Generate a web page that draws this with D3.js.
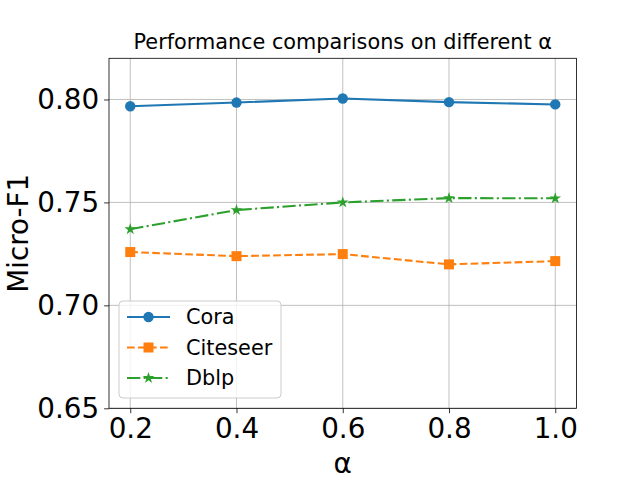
<!DOCTYPE html>
<html>
<head>
<meta charset="utf-8">
<script src="https://cdn.jsdelivr.net/npm/d3@7"></script>
<style>
  body { margin: 0; background: #fff; }
  svg { font-family: "DejaVu Sans", sans-serif; }
</style>
</head>
<body>
<div id="chart"></div>
<script>
const alphas = [0.2, 0.4, 0.6, 0.8, 1.0];
const cora = [0.7967, 0.7985, 0.8005, 0.7987, 0.7976];
const citeseer = [0.7259, 0.7239, 0.7249, 0.7199, 0.7215];
const dblp = [0.7370, 0.7463, 0.7500, 0.7521, 0.7520];
const yTicks = [0.65, 0.70, 0.75, 0.80];

const series = [
  { name: 'Cora', values: cora, color: '#1f77b4', dash: null, symbol: 'circle' },
  { name: 'Citeseer', values: citeseer, color: '#ff7f0e', dash: '7.7,3.3', symbol: 'square' },
  { name: 'Dblp', values: dblp, color: '#2ca02c', dash: '13.3,3.3,2.1,3.3', symbol: 'star' }
];

const width = 640, height = 480;
const margin = { top: 58.3, right: 63.5, bottom: 71.7, left: 109 };

const svg = d3.select('#chart').append('svg')
  .attr('width', width)
  .attr('height', height);

const x = d3.scaleLinear().domain([0.16, 1.04]).range([margin.left, width - margin.right]);
const y = d3.scaleLinear().domain([0.65, 0.82]).range([height - margin.bottom, margin.top]);

// grid
svg.append('g').selectAll('line').data(alphas).enter().append('line')
  .attr('x1', d => x(d)).attr('x2', d => x(d))
  .attr('y1', y(0.65)).attr('y2', y(0.82))
  .attr('stroke', '#b0b0b0').attr('stroke-width', 0.8);
svg.append('g').selectAll('line').data(yTicks).enter().append('line')
  .attr('x1', x(0.16)).attr('x2', x(1.04))
  .attr('y1', d => y(d)).attr('y2', d => y(d))
  .attr('stroke', '#b0b0b0').attr('stroke-width', 0.8);

// axes
const xAxis = svg.append('g')
  .attr('transform', `translate(0,${height - margin.bottom})`)
  .call(d3.axisBottom(x).tickValues(alphas).tickFormat(d3.format('.1f')).tickSizeInner(4.9).tickSizeOuter(0).tickPadding(4.9));
const yAxis = svg.append('g')
  .attr('transform', `translate(${margin.left},0)`)
  .call(d3.axisLeft(y).tickValues(yTicks).tickFormat(d3.format('.2f')).tickSizeInner(4.9).tickSizeOuter(0).tickPadding(4.9));
[xAxis, yAxis].forEach(a => {
  a.selectAll('text').attr('font-size', 27.8).attr('fill', '#000').attr('font-family', 'DejaVu Sans');
  a.selectAll('line').attr('stroke', '#000').attr('stroke-width', 0.8);
  a.select('.domain').remove();
});

// frame
svg.append('rect')
  .attr('x', x(0.16)).attr('y', y(0.82))
  .attr('width', x(1.04) - x(0.16)).attr('height', y(0.65) - y(0.82))
  .attr('fill', 'none').attr('stroke', '#000').attr('stroke-width', 0.8);

const symbols = {
  circle: d3.symbol().type(d3.symbolCircle).size(85),
  square: d3.symbol().type(d3.symbolSquare).size(100),
  star: d3.symbol().type(d3.symbolStar).size(42)
};

const line = d3.line().x((d, i) => x(alphas[i])).y(d => y(d));

series.forEach(s => {
  svg.append('path')
    .datum(s.values)
    .attr('d', line)
    .attr('fill', 'none')
    .attr('stroke', s.color)
    .attr('stroke-width', 2.08)
    .attr('stroke-dasharray', s.dash);
  svg.append('g').selectAll('path').data(s.values).enter().append('path')
    .attr('d', symbols[s.symbol])
    .attr('transform', (d, i) => `translate(${x(alphas[i])},${y(d)})`)
    .attr('fill', s.color);
});

// title and labels
svg.append('text')
  .attr('x', (x(0.16) + x(1.04)) / 2).attr('y', 49)
  .attr('text-anchor', 'middle')
  .attr('font-size', 20.8)
  .text('Performance comparisons on different α');
svg.append('text')
  .attr('x', (x(0.16) + x(1.04)) / 2).attr('y', 473)
  .attr('text-anchor', 'middle')
  .attr('font-size', 27.8)
  .text('α');
svg.append('text')
  .attr('transform', `translate(28,${(y(0.65) + y(0.82)) / 2}) rotate(-90)`)
  .attr('text-anchor', 'middle')
  .attr('font-size', 27.8)
  .text('Micro-F1');

// legend
const legend = svg.append('g').attr('transform', 'translate(119,301)');
legend.append('rect')
  .attr('width', 162).attr('height', 97)
  .attr('rx', 4)
  .attr('fill', '#fff').attr('fill-opacity', 0.8)
  .attr('stroke', '#cccccc').attr('stroke-width', 1);
series.forEach((s, i) => {
  const g = legend.append('g').attr('transform', `translate(0,${16 + i * 30.5})`);
  g.append('line')
    .attr('x1', 8).attr('x2', 51)
    .attr('stroke', s.color).attr('stroke-width', 2.08)
    .attr('stroke-dasharray', s.dash);
  g.append('path')
    .attr('d', symbols[s.symbol])
    .attr('transform', 'translate(29.5,0)')
    .attr('fill', s.color);
  g.append('text')
    .attr('x', 67).attr('y', 0).attr('dy', '0.35em')
    .attr('font-size', 20.8)
    .text(s.name);
});
</script>
</body>
</html>
